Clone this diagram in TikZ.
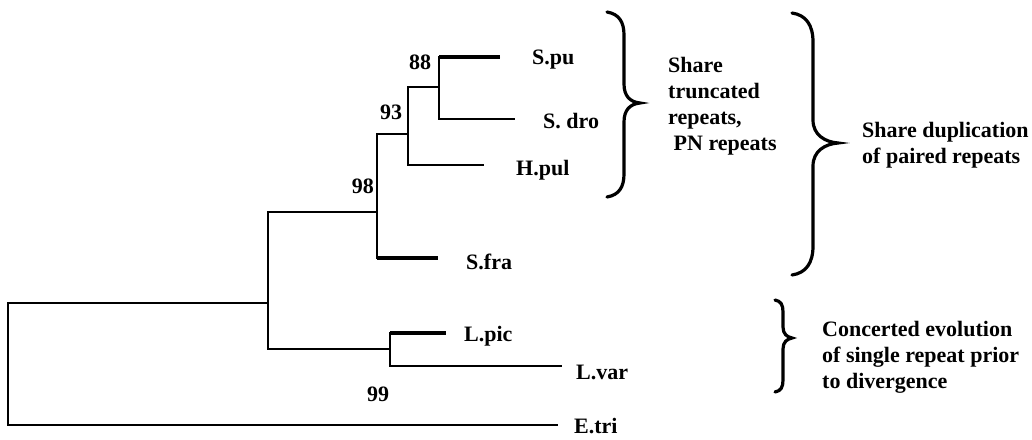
\documentclass[tikz,border=0pt]{standalone}
\usepackage{fontspec}
\setmainfont{Liberation Serif}
\begin{document}
\begin{tikzpicture}[x=1pt,y=-1pt,
  branch/.style={line width=2.8pt,line join=miter},
  thickbranch/.style={line width=3.8pt},
  bracepath/.style={line width=3.2pt,line cap=round},
  lbl/.style={font=\fontsize{22}{26}\selectfont\bfseries,inner sep=0pt,anchor=west},
  note/.style={font=\fontsize{22}{26}\selectfont\bfseries,inner sep=0pt,anchor=west,align=left}]
\useasboundingbox (0,0) rectangle (1032,439);
% internal nodes
\coordinate (D) at (439,87);
\coordinate (C) at (408,134);
\coordinate (B) at (377,212);
\coordinate (A) at (268,303);
\coordinate (L) at (390,349);
\coordinate (R) at (8,364);
% tips
\coordinate (tSpu) at (500,57);
\coordinate (tSdro) at (515,119);
\coordinate (tHpul) at (484,165);
\coordinate (tSfra) at (438,258);
\coordinate (tLpic) at (446,333);
\coordinate (tLvar) at (562,366);
\coordinate (tEtri) at (558,425);
% branches
\draw[branch] (tSpu) -| (D) |- (tSdro);
\draw[branch] (D) -| (C) |- (tHpul);
\draw[branch] (C) -| (B) |- (tSfra);
\draw[branch] (B) -| (A) |- (L);
\draw[branch] (tLpic) -| (L) |- (tLvar);
\draw[branch] (A) -| (R) |- (tEtri);
\draw[thickbranch] (D |- tSpu) -- (tSpu);
\draw[thickbranch] (B |- tSfra) -- (tSfra);
\draw[thickbranch] (L |- tLpic) -- (tLpic);
% leaf labels
\node[lbl] (Spu) at (532,60) {S.pu};
\node[lbl] (Sdro) at (543,121) {S. dro};
\node[lbl] (Hpul) at (516,170) {H.pul};
\node[lbl] (Sfra) at (466,262) {S.fra};
\node[lbl] (Lpic) at (464,336) {L.pic};
\node[lbl] (Lvar) at (576,372) {L.var};
\node[lbl] (Etri) at (574,426) {E.tri};
% bootstrap values
\node[lbl,anchor=center] (b88) at (420,62) {88};
\node[lbl,anchor=center] (b93) at (391,112) {93};
\node[lbl,anchor=east] (b98) at (374,186) {98};
\node[lbl,anchor=center] (b99) at (378,394) {99};
% braces
\draw[bracepath] (607,12) .. controls (619,14) and (624,22) .. (624,35) -- (624,84)
  .. controls (624,96) and (630,102) .. (640,103)
  .. controls (630,104) and (624,110) .. (624,122) -- (624,174)
  .. controls (624,187) and (619,195) .. (607,197);
\draw[bracepath] (792,13) .. controls (806,15) and (813,25) .. (813,42) -- (813,120)
  .. controls (813,135) and (825,142) .. (838,143)
  .. controls (825,144) and (813,151) .. (813,166) -- (813,246)
  .. controls (813,263) and (806,273) .. (792,275);
\draw[bracepath] (775,300) .. controls (781,301) and (783,305) .. (783,312) -- (783,327)
  .. controls (783,334) and (787,337) .. (792,338)
  .. controls (787,339) and (783,342) .. (783,349) -- (783,380)
  .. controls (783,387) and (781,391) .. (775,392);
% annotations
\node[note] (n1) at (668,106) {Share\\truncated\\repeats,\\\hspace{0.25em}PN repeats};
\node[note] (n2) at (862,145) {Share duplication\\of paired repeats};
\node[note] (n3) at (822,357) {Concerted evolution\\of single repeat prior\\to divergence};
\end{tikzpicture}
\end{document}
